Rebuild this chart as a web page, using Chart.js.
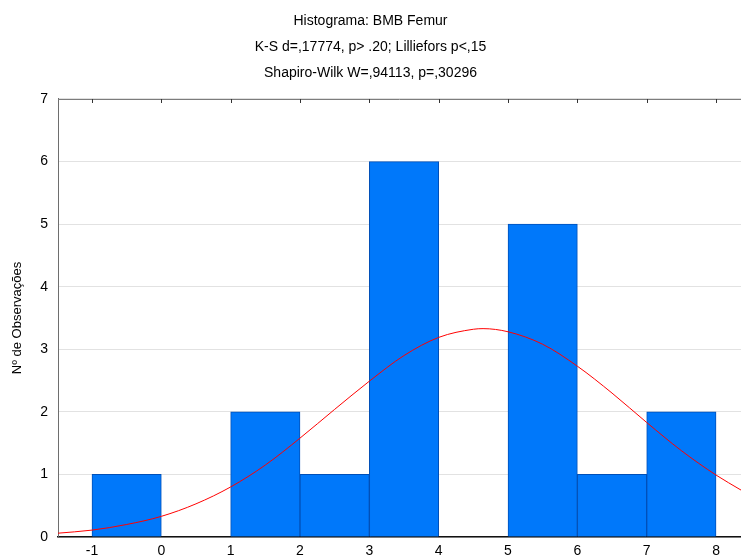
<!DOCTYPE html>
<html>
<head>
<meta charset="utf-8">
<script src="https://cdn.jsdelivr.net/npm/chart.js@4.4.4/dist/chart.umd.min.js"></script>
<style>
  html, body { margin: 0; padding: 0; background: #fff; overflow: hidden; }
  #hist { display: block; }
</style>
</head>
<body>
<canvas id="hist" width="741" height="560"></canvas>
<script>
// Histogram bins (centres of 1-wide classes) and observed counts
const binCenters = [-0.5, 0.5, 1.5, 2.5, 3.5, 4.5, 5.5, 6.5, 7.5];
const counts = [1, 0, 2, 1, 6, 0, 5, 1, 2];

// Expected-normal overlay, sampled along the x axis
const curveX = [-1.5, -1, -0.5, 0, 0.5, 1, 1.5, 2, 2.5, 3, 3.5, 4, 4.5, 4.64, 5, 5.5, 6, 6.5, 7, 7.5, 8, 8.36];
const curveY = [0.06, 0.11, 0.2, 0.33, 0.53, 0.8, 1.15, 1.58, 2.04, 2.49, 2.9, 3.19, 3.32, 3.33, 3.28, 3.08, 2.73, 2.3, 1.83, 1.38, 0.99, 0.75];

const xTicks = [-1, 0, 1, 2, 3, 4, 5, 6, 7, 8];
const yTicks = [0, 1, 2, 3, 4, 5, 6, 7];

const titleLines = [
  'Histograma: BMB Femur',
  'K-S d=,17774, p> .20; Lilliefors p<,15',
  'Shapiro-Wilk W=,94113, p=,30296'
];
const yAxisTitle = 'Nº de Observações';

const FONT = '"Liberation Sans", Arial, sans-serif';
const BAR_FILL = '#0078FA';
const BAR_EDGE = '#0050B8';
const CURVE_COLOR = '#FF0000';

// top frame line with small inward tick marks at each x tick
const topFrame = {
  id: 'topFrame',
  afterDatasetsDraw(chart) {
    const { ctx, chartArea } = chart;
    const x = chart.scales.x;
    ctx.save();
    ctx.strokeStyle = '#7a7a7a';
    ctx.lineWidth = 1;
    ctx.beginPath();
    ctx.moveTo(chartArea.left, chartArea.top + 0.5);
    ctx.lineTo(chartArea.right, chartArea.top + 0.5);
    ctx.stroke();
    ctx.strokeStyle = '#333';
    xTicks.forEach(v => {
      const px = Math.round(x.getPixelForValue(v)) + 0.5;
      ctx.beginPath();
      ctx.moveTo(px, chartArea.top);
      ctx.lineTo(px, chartArea.top + 4);
      ctx.stroke();
    });
    ctx.restore();
  }
};

new Chart(document.getElementById('hist').getContext('2d'), {
  data: {
    datasets: [
      {
        type: 'line',
        label: 'Normal',
        data: curveX.map((x, i) => ({ x, y: curveY[i] })),
        borderColor: CURVE_COLOR,
        borderWidth: 1,
        pointRadius: 0,
        tension: 0.4,
        cubicInterpolationMode: 'monotone',
        order: 0
      },
      {
        type: 'bar',
        label: 'Observações',
        data: binCenters.map((x, i) => ({ x, y: counts[i] })),
        backgroundColor: BAR_FILL,
        borderColor: BAR_EDGE,
        borderWidth: 1,
        borderSkipped: 'bottom',
        barPercentage: 1,
        categoryPercentage: 1,
        order: 1
      }
    ]
  },
  options: {
    responsive: false,
    animation: false,
    layout: { padding: { left: 0, right: 0, top: 0, bottom: 0 } },
    plugins: {
      legend: { display: false },
      tooltip: { enabled: false },
      title: {
        display: true,
        text: titleLines,
        color: '#000',
        font: { family: FONT, size: 14, weight: 'normal', lineHeight: 1.857 },
        padding: { top: 8, bottom: 13 }
      }
    },
    scales: {
      x: {
        type: 'linear',
        min: -1.49,
        max: 8.36,
        offset: false,
        grid: { display: false, drawTicks: false },
        border: { display: true, color: '#111', width: 1.5 },
        ticks: {
          stepSize: 1,
          includeBounds: false,
          color: '#000',
          padding: 6,
          maxRotation: 0,
          font: { family: FONT, size: 14 }
        },
        afterFit(scale) { scale.height = 23; }
      },
      y: {
        min: 0,
        max: 7,
        grid: { color: '#e2e2e2', lineWidth: 1, drawTicks: false },
        border: { display: true, color: '#6e6e6e', width: 1 },
        ticks: {
          stepSize: 1,
          color: '#000',
          padding: 10,
          font: { family: FONT, size: 14 },
          callback: v => (yTicks.includes(v) ? String(v) : '')
        },
        title: {
          display: true,
          text: yAxisTitle,
          color: '#000',
          font: { family: FONT, size: 13 },
          padding: { top: 10, bottom: 4 }
        },
        afterFit(scale) { scale.width = 58; }
      }
    }
  },
  plugins: [topFrame]
});
</script>
</body>
</html>
